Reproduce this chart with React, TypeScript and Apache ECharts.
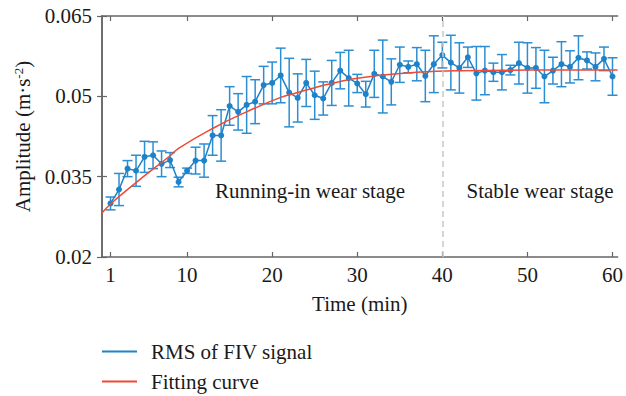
import React, { useEffect, useRef } from "react";
import * as echarts from "echarts";

// Time (min) of each RMS sample
const minutes = [
  1, 2, 3, 4, 5, 6, 7, 8, 9, 10, 11, 12, 13, 14, 15, 16, 17, 18, 19, 20,
  21, 22, 23, 24, 25, 26, 27, 28, 29, 30, 31, 32, 33, 34, 35, 36, 37, 38, 39, 40,
  41, 42, 43, 44, 45, 46, 47, 48, 49, 50, 51, 52, 53, 54, 55, 56, 57, 58, 59, 60,
];

// Mean RMS of the FIV signal (m·s^-2)
const rmsValues = [
  0.03, 0.0326, 0.0365, 0.0361, 0.0387, 0.039, 0.0374, 0.0381, 0.034, 0.0361,
  0.038, 0.038, 0.0427, 0.0427, 0.0482, 0.0471, 0.0484, 0.049, 0.0521, 0.0525,
  0.0539, 0.0507, 0.0497, 0.0525, 0.0502, 0.0496, 0.0525, 0.0548, 0.0534, 0.0524,
  0.0504, 0.0542, 0.0537, 0.0527, 0.0559, 0.0555, 0.056, 0.0538, 0.056, 0.0577,
  0.0563, 0.0553, 0.0573, 0.0543, 0.0548, 0.0545, 0.0545, 0.0549, 0.0562, 0.0553,
  0.0553, 0.0537, 0.0548, 0.056, 0.0555, 0.0572, 0.0567, 0.0555, 0.057, 0.0537,
];

// Half-width of each error bar
const rmsErrors = [
  0.0012, 0.003, 0.0015, 0.0029, 0.0029, 0.0025, 0.0024, 0.0014, 0.0009, 0.0005,
  0.0025, 0.0031, 0.0037, 0.0048, 0.0036, 0.0034, 0.0053, 0.0041, 0.0035, 0.0039,
  0.0051, 0.0064, 0.0045, 0.0044, 0.0045, 0.0031, 0.0042, 0.0034, 0.0052, 0.0017,
  0.0024, 0.0044, 0.0068, 0.0043, 0.0033, 0.0011, 0.0031, 0.0048, 0.0053, 0.0024,
  0.0051, 0.0047, 0.0019, 0.005, 0.0045, 0.0017, 0.0033, 0.0009, 0.0039, 0.0047,
  0.0038, 0.0049, 0.0025, 0.0042, 0.003, 0.0041, 0.0016, 0.0026, 0.0022, 0.0035,
];

// Fitted curve, sampled along time
const fitMinutes = [0, 1, 4, 8, 9, 13, 17, 21, 23, 25.4, 27, 29, 32, 37, 42, 50, 60.6];
const fitValues = [
  0.0282, 0.0299, 0.0339, 0.0389, 0.0403, 0.044, 0.0471, 0.0498, 0.0507, 0.0518,
  0.0524, 0.0531, 0.0538, 0.0545, 0.0548, 0.0549, 0.0549,
];

const xTicks = [1, 10, 20, 30, 40, 50, 60];
const yTicks = [0.02, 0.035, 0.05, 0.065];
const stageBoundary = 40;

const FONT = "'Liberation Serif', 'Times New Roman', serif";
const FS = 21;
const TEXT = "#1a1a1a";
const BLUE = "#1f82c9";
const BAR_BLUE = "#2b8ed2";
const RED = "#ee4a36";
const AXIS = "#666666";

export default function App() {
  const ref = useRef<HTMLDivElement>(null);

  useEffect(() => {
    if (!ref.current) return;
    const chart = echarts.init(ref.current, null, { renderer: "svg" });

    const linePoints = minutes.map((m, i) => [m, rmsValues[i]]);
    const barData = minutes.map((m, i) => [m, rmsValues[i] - rmsErrors[i], rmsValues[i] + rmsErrors[i]]);
    const fitPoints = fitMinutes.map((m, i) => [m, fitValues[i]]);

    const axisLine = { show: true, lineStyle: { color: AXIS, width: 1.5 } };
    const tickStyle = { inside: true, length: 5, lineStyle: { color: AXIS, width: 1.2 } };

    chart.setOption({
      animation: false,
      backgroundColor: "#ffffff",
      grid: { left: 102, right: 5, top: 16, bottom: 139 },
      legend: {
        orient: "vertical",
        left: 102,
        top: 341,
        height: 55,
        padding: 0,
        icon: "rect",
        itemWidth: 35,
        itemHeight: 2,
        itemGap: 9,
        data: ["RMS of FIV signal", "Fitting curve"],
        textStyle: { fontFamily: FONT, fontSize: FS, color: TEXT, padding: [0, 0, 0, 9] },
      },
      xAxis: [
        {
          type: "value",
          min: 0,
          max: 60.6,
          position: "bottom",
          name: "Time (min)",
          nameLocation: "middle",
          nameGap: 36,
          nameTextStyle: { fontFamily: FONT, fontSize: FS, color: TEXT },
          axisLine,
          axisTick: { ...tickStyle, customValues: xTicks },
          axisLabel: {
            customValues: xTicks,
            fontFamily: FONT,
            fontSize: FS,
            color: TEXT,
            margin: 7,
          },
          splitLine: { show: false },
        },
        {
          type: "value",
          min: 0,
          max: 60.6,
          position: "top",
          axisLine,
          axisTick: { ...tickStyle, customValues: xTicks },
          axisLabel: { show: false },
          splitLine: { show: false },
        },
      ],
      yAxis: [
        {
          type: "value",
          min: 0.02,
          max: 0.065,
          position: "left",
          name: "Amplitude (m·s{sup|-2})",
          nameLocation: "middle",
          nameGap: 66,
          nameTextStyle: {
            fontFamily: FONT,
            fontSize: FS,
            color: TEXT,
            lineHeight: 22,
            rich: {
              sup: { fontFamily: FONT, fontSize: 13, color: TEXT, verticalAlign: "top", lineHeight: 13 },
            },
          },
          axisLine,
          axisTick: { ...tickStyle, customValues: yTicks },
          axisLabel: {
            customValues: yTicks,
            fontFamily: FONT,
            fontSize: FS,
            color: TEXT,
            margin: 10,
            formatter: (v: number) => String(Number(v.toFixed(3))),
          },
          splitLine: { show: false },
        },
        {
          type: "value",
          min: 0.02,
          max: 0.065,
          position: "right",
          axisLine,
          axisTick: { ...tickStyle, customValues: yTicks },
          axisLabel: { show: false },
          splitLine: { show: false },
        },
      ],
      series: [
        {
          name: "RMS error",
          type: "custom",
          xAxisIndex: 0,
          yAxisIndex: 0,
          z: 2,
          encode: { x: 0, y: [1, 2] },
          data: barData,
          renderItem: (_params: any, api: any) => {
            const x = api.value(0);
            const lo = api.coord([x, api.value(1)]);
            const hi = api.coord([x, api.value(2)]);
            const hw = 5;
            const style = { stroke: BAR_BLUE, lineWidth: 1.5 };
            return {
              type: "group",
              children: [
                { type: "line", shape: { x1: hi[0], y1: hi[1], x2: lo[0], y2: lo[1] }, style },
                { type: "line", shape: { x1: hi[0] - hw, y1: hi[1], x2: hi[0] + hw, y2: hi[1] }, style },
                { type: "line", shape: { x1: lo[0] - hw, y1: lo[1], x2: lo[0] + hw, y2: lo[1] }, style },
              ],
            };
          },
        },
        {
          name: "RMS of FIV signal",
          type: "line",
          z: 3,
          data: linePoints,
          symbol: "circle",
          symbolSize: 6,
          itemStyle: { color: BLUE },
          lineStyle: { color: BLUE, width: 1.5 },
          markLine: {
            silent: true,
            symbol: "none",
            label: { show: false },
            lineStyle: { color: "#c8c8c8", type: [6, 4], width: 1.5 },
            data: [{ xAxis: stageBoundary }],
          },
        },
        {
          name: "Fitting curve",
          type: "line",
          z: 4,
          data: fitPoints,
          smooth: true,
          showSymbol: false,
          symbol: "none",
          itemStyle: { color: RED },
          lineStyle: { color: RED, width: 1.5 },
        },
      ],
      graphic: [
        {
          type: "text",
          x: 310,
          y: 191,
          style: {
            text: "Running-in wear stage",
            fontFamily: FONT,
            fontSize: FS,
            fill: TEXT,
            align: "center",
            verticalAlign: "middle",
          },
        },
        {
          type: "text",
          x: 540,
          y: 191,
          style: {
            text: "Stable wear stage",
            fontFamily: FONT,
            fontSize: FS,
            fill: TEXT,
            align: "center",
            verticalAlign: "middle",
          },
        },
      ],
    });

    return () => chart.dispose();
  }, []);

  return (
    <div
      ref={ref}
      style={{ position: "absolute", left: 0, top: 0, width: 626, height: 396 }}
    />
  );
}
